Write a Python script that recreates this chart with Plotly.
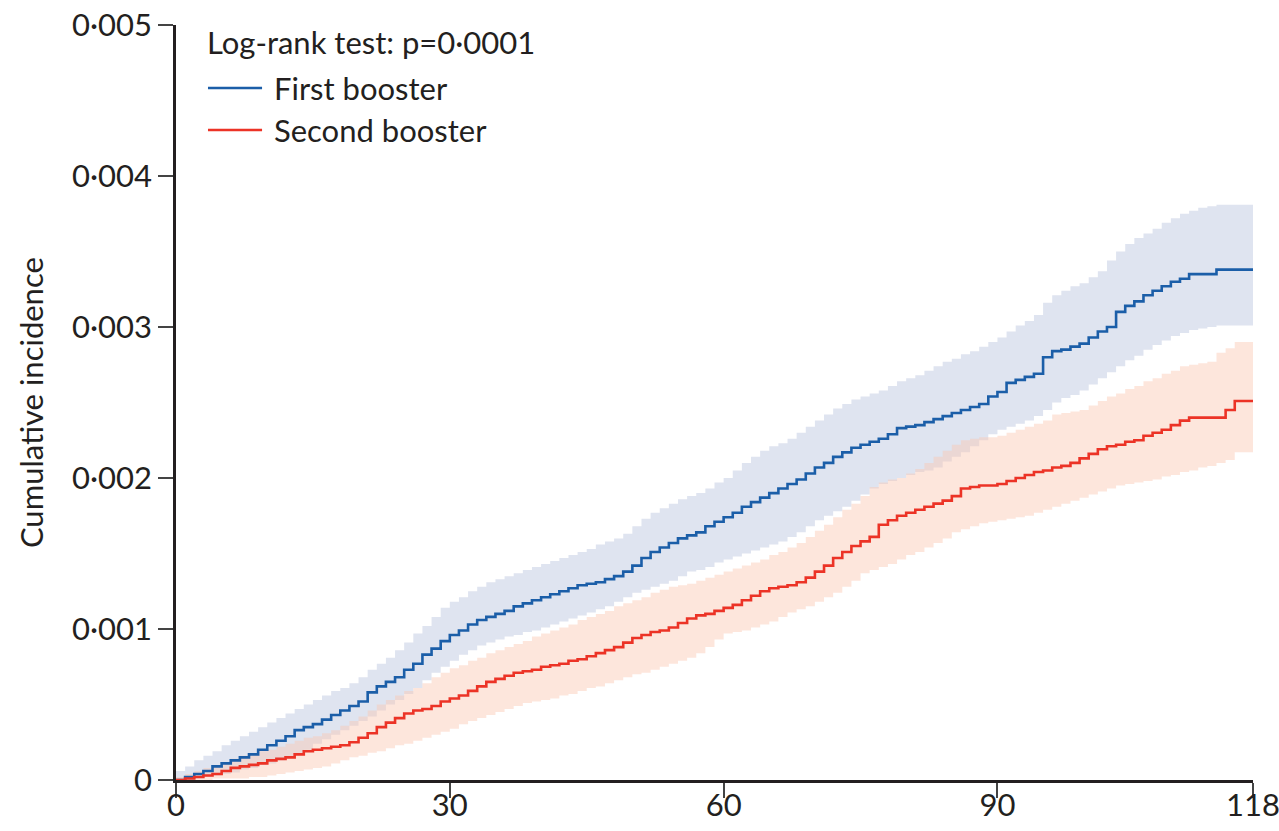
import plotly.graph_objects as go

# Follow-up time in days
days = list(range(0, 119))

# First booster: cumulative incidence and 95% CI
first_est = [
    0.00000, 0.00002, 0.00004, 0.00006, 0.00009, 0.00011, 0.00013, 0.00015, 0.00017, 0.00020,
    0.00023, 0.00026, 0.00029, 0.00033, 0.00035, 0.00037, 0.00040, 0.00043, 0.00046, 0.00049,
    0.00052, 0.00058, 0.00062, 0.00065, 0.00068, 0.00073, 0.00077, 0.00083, 0.00087, 0.00092,
    0.00096, 0.00099, 0.00103, 0.00106, 0.00108, 0.00110, 0.00112, 0.00115, 0.00117, 0.00119,
    0.00121, 0.00123, 0.00125, 0.00127, 0.00129, 0.00130, 0.00131, 0.00133, 0.00135, 0.00138,
    0.00142, 0.00147, 0.00151, 0.00154, 0.00157, 0.00160, 0.00162, 0.00164, 0.00168, 0.00171,
    0.00174, 0.00177, 0.00181, 0.00184, 0.00187, 0.00190, 0.00193, 0.00196, 0.00199, 0.00203,
    0.00207, 0.00210, 0.00214, 0.00217, 0.00220, 0.00222, 0.00224, 0.00226, 0.00229, 0.00233,
    0.00234, 0.00235, 0.00237, 0.00239, 0.00241, 0.00243, 0.00245, 0.00247, 0.00249, 0.00254,
    0.00257, 0.00263, 0.00265, 0.00267, 0.00269, 0.00280, 0.00284, 0.00285, 0.00287, 0.00289,
    0.00293, 0.00297, 0.00300, 0.00310, 0.00314, 0.00317, 0.00321, 0.00324, 0.00327, 0.00330,
    0.00332, 0.00335, 0.00335, 0.00335, 0.00338, 0.00338, 0.00338, 0.00338, 0.00338,
]
first_upper = [
    0.00006, 0.00009, 0.00013, 0.00016, 0.00019, 0.00023, 0.00026, 0.00029, 0.00032, 0.00035,
    0.00038, 0.00041, 0.00044, 0.00047, 0.00050, 0.00053, 0.00056, 0.00059, 0.00061, 0.00064,
    0.00068, 0.00073, 0.00077, 0.00081, 0.00086, 0.00091, 0.00097, 0.00102, 0.00108, 0.00114,
    0.00118, 0.00121, 0.00125, 0.00128, 0.00131, 0.00133, 0.00135, 0.00137, 0.00139, 0.00141,
    0.00143, 0.00145, 0.00147, 0.00149, 0.00151, 0.00153, 0.00156, 0.00158, 0.00160, 0.00163,
    0.00168, 0.00173, 0.00177, 0.00180, 0.00183, 0.00186, 0.00188, 0.00190, 0.00193, 0.00197,
    0.00200, 0.00205, 0.00210, 0.00214, 0.00218, 0.00221, 0.00223, 0.00226, 0.00230, 0.00234,
    0.00238, 0.00242, 0.00246, 0.00249, 0.00252, 0.00254, 0.00256, 0.00258, 0.00261, 0.00264,
    0.00266, 0.00268, 0.00271, 0.00274, 0.00277, 0.00279, 0.00282, 0.00284, 0.00287, 0.00290,
    0.00293, 0.00297, 0.00301, 0.00304, 0.00308, 0.00316, 0.00321, 0.00324, 0.00327, 0.00329,
    0.00333, 0.00337, 0.00344, 0.00350, 0.00355, 0.00359, 0.00362, 0.00365, 0.00369, 0.00372,
    0.00375, 0.00377, 0.00379, 0.00380, 0.00381, 0.00381, 0.00381, 0.00381, 0.00381,
]
first_lower = [
    0.00000, 0.00000, 0.00001, 0.00002, 0.00003, 0.00004, 0.00005, 0.00007, 0.00008, 0.00010,
    0.00011, 0.00013, 0.00015, 0.00017, 0.00020, 0.00024, 0.00027, 0.00030, 0.00033, 0.00036,
    0.00039, 0.00042, 0.00046, 0.00050, 0.00053, 0.00057, 0.00061, 0.00066, 0.00071, 0.00075,
    0.00079, 0.00083, 0.00086, 0.00089, 0.00091, 0.00093, 0.00095, 0.00096, 0.00098, 0.00099,
    0.00101, 0.00103, 0.00105, 0.00107, 0.00109, 0.00111, 0.00113, 0.00115, 0.00118, 0.00121,
    0.00124, 0.00126, 0.00128, 0.00130, 0.00132, 0.00135, 0.00138, 0.00139, 0.00141, 0.00144,
    0.00146, 0.00148, 0.00150, 0.00152, 0.00154, 0.00156, 0.00158, 0.00161, 0.00164, 0.00168,
    0.00172, 0.00175, 0.00178, 0.00181, 0.00185, 0.00189, 0.00193, 0.00196, 0.00198, 0.00200,
    0.00202, 0.00204, 0.00205, 0.00207, 0.00211, 0.00214, 0.00217, 0.00221, 0.00225, 0.00229,
    0.00232, 0.00234, 0.00236, 0.00238, 0.00241, 0.00245, 0.00250, 0.00253, 0.00255, 0.00258,
    0.00262, 0.00266, 0.00270, 0.00274, 0.00278, 0.00281, 0.00285, 0.00288, 0.00291, 0.00294,
    0.00296, 0.00298, 0.00299, 0.00300, 0.00301, 0.00301, 0.00301, 0.00301, 0.00301,
]

# Second booster: cumulative incidence and 95% CI
second_est = [
    0.00000, 0.00001, 0.00002, 0.00003, 0.00004, 0.00006, 0.00008, 0.00009, 0.00010, 0.00011,
    0.00013, 0.00014, 0.00015, 0.00017, 0.00019, 0.00020, 0.00021, 0.00022, 0.00023, 0.00025,
    0.00028, 0.00031, 0.00035, 0.00038, 0.00041, 0.00044, 0.00046, 0.00047, 0.00049, 0.00052,
    0.00054, 0.00056, 0.00059, 0.00062, 0.00065, 0.00067, 0.00069, 0.00071, 0.00072, 0.00073,
    0.00075, 0.00076, 0.00077, 0.00079, 0.00080, 0.00082, 0.00084, 0.00086, 0.00088, 0.00091,
    0.00094, 0.00096, 0.00098, 0.00099, 0.00101, 0.00104, 0.00107, 0.00109, 0.00110, 0.00112,
    0.00114, 0.00116, 0.00119, 0.00122, 0.00125, 0.00127, 0.00128, 0.00129, 0.00131, 0.00134,
    0.00138, 0.00142, 0.00147, 0.00151, 0.00155, 0.00158, 0.00161, 0.00169, 0.00172, 0.00175,
    0.00177, 0.00179, 0.00181, 0.00183, 0.00185, 0.00188, 0.00193, 0.00194, 0.00195, 0.00195,
    0.00196, 0.00198, 0.00200, 0.00202, 0.00204, 0.00205, 0.00207, 0.00208, 0.00210, 0.00213,
    0.00216, 0.00219, 0.00221, 0.00222, 0.00224, 0.00225, 0.00228, 0.00230, 0.00232, 0.00235,
    0.00238, 0.00240, 0.00240, 0.00240, 0.00240, 0.00245, 0.00251, 0.00251, 0.00251,
]
second_upper = [
    0.00002, 0.00004, 0.00006, 0.00008, 0.00010, 0.00012, 0.00014, 0.00016, 0.00017, 0.00019,
    0.00020, 0.00022, 0.00024, 0.00026, 0.00028, 0.00029, 0.00031, 0.00033, 0.00036, 0.00039,
    0.00042, 0.00046, 0.00050, 0.00053, 0.00056, 0.00059, 0.00061, 0.00064, 0.00068, 0.00071,
    0.00074, 0.00076, 0.00079, 0.00081, 0.00084, 0.00086, 0.00088, 0.00090, 0.00092, 0.00095,
    0.00097, 0.00099, 0.00101, 0.00103, 0.00106, 0.00108, 0.00110, 0.00112, 0.00115, 0.00117,
    0.00119, 0.00121, 0.00124, 0.00126, 0.00128, 0.00129, 0.00130, 0.00132, 0.00134, 0.00136,
    0.00138, 0.00140, 0.00142, 0.00144, 0.00146, 0.00149, 0.00151, 0.00154, 0.00157, 0.00161,
    0.00165, 0.00169, 0.00174, 0.00179, 0.00183, 0.00188, 0.00194, 0.00197, 0.00199, 0.00200,
    0.00203, 0.00206, 0.00210, 0.00214, 0.00218, 0.00222, 0.00225, 0.00226, 0.00227, 0.00227,
    0.00228, 0.00230, 0.00232, 0.00234, 0.00236, 0.00238, 0.00242, 0.00243, 0.00244, 0.00245,
    0.00248, 0.00251, 0.00254, 0.00256, 0.00259, 0.00261, 0.00264, 0.00266, 0.00269, 0.00271,
    0.00274, 0.00275, 0.00276, 0.00277, 0.00283, 0.00286, 0.00290, 0.00290, 0.00290,
]
second_lower = [
    0.00000, 0.00000, 0.00000, 0.00000, 0.00001, 0.00001, 0.00001, 0.00001, 0.00002, 0.00002,
    0.00003, 0.00004, 0.00005, 0.00006, 0.00007, 0.00008, 0.00009, 0.00011, 0.00013, 0.00015,
    0.00016, 0.00018, 0.00019, 0.00021, 0.00023, 0.00024, 0.00026, 0.00028, 0.00030, 0.00032,
    0.00034, 0.00037, 0.00039, 0.00041, 0.00043, 0.00045, 0.00047, 0.00049, 0.00051, 0.00052,
    0.00053, 0.00054, 0.00056, 0.00057, 0.00059, 0.00061, 0.00062, 0.00064, 0.00066, 0.00068,
    0.00070, 0.00071, 0.00073, 0.00075, 0.00077, 0.00079, 0.00081, 0.00084, 0.00088, 0.00093,
    0.00097, 0.00098, 0.00099, 0.00101, 0.00103, 0.00105, 0.00108, 0.00111, 0.00113, 0.00115,
    0.00118, 0.00121, 0.00124, 0.00128, 0.00132, 0.00137, 0.00139, 0.00141, 0.00143, 0.00146,
    0.00149, 0.00151, 0.00154, 0.00157, 0.00160, 0.00164, 0.00166, 0.00168, 0.00170, 0.00171,
    0.00172, 0.00173, 0.00174, 0.00175, 0.00177, 0.00179, 0.00181, 0.00183, 0.00185, 0.00187,
    0.00189, 0.00191, 0.00193, 0.00195, 0.00196, 0.00197, 0.00198, 0.00199, 0.00201, 0.00202,
    0.00204, 0.00205, 0.00207, 0.00208, 0.00210, 0.00212, 0.00217, 0.00217, 0.00217,
]

x_ticks = [0, 30, 60, 90, 118]
y_ticks = [0, 0.001, 0.002, 0.003, 0.004, 0.005]
y_tick_labels = ["0", "0·001", "0·002", "0·003", "0·004", "0·005"]

series_names = ["First booster", "Second booster"]
legend_header = "Log-rank test: p=0·0001"

FONT = "Lato, 'Open Sans', sans-serif"
FONT_SIZE = 31
INK = "#231f20"
BLUE = "#1b5ea8"
RED = "#ec3326"
BLUE_BAND = "#dfe4f0"
RED_BAND = "rgba(251,199,177,0.45)"

fig = go.Figure()


def add_band(upper, lower, fill):
    fig.add_trace(go.Scatter(
        x=days, y=upper, mode="lines", line=dict(width=0, shape="hv"),
        hoverinfo="skip", showlegend=False,
    ))
    fig.add_trace(go.Scatter(
        x=days, y=lower, mode="lines", line=dict(width=0, shape="hv"),
        fill="tonexty", fillcolor=fill, hoverinfo="skip", showlegend=False,
    ))


add_band(first_upper, first_lower, BLUE_BAND)
add_band(second_upper, second_lower, RED_BAND)

fig.add_trace(go.Scatter(
    x=days, y=first_est, mode="lines", name=series_names[0],
    line=dict(color=BLUE, width=2.6, shape="hv"), showlegend=False,
))
fig.add_trace(go.Scatter(
    x=days, y=second_est, mode="lines", name=series_names[1],
    line=dict(color=RED, width=2.6, shape="hv"), showlegend=False,
))

# Legend block drawn in paper coordinates (top-left of the plot area)
key_x0, key_x1 = 0.0297, 0.0799
label_x = 0.0891
fig.add_annotation(
    x=0.0265, y=0.9775, xref="paper", yref="paper", xanchor="left", yanchor="middle",
    text=legend_header, showarrow=False,
    font=dict(family=FONT, size=FONT_SIZE, color=INK),
)
for name, colour, ypos in zip(series_names, [BLUE, RED], [0.9166, 0.8610]):
    fig.add_shape(
        type="line", xref="paper", yref="paper",
        x0=key_x0, x1=key_x1, y0=ypos, y1=ypos,
        line=dict(color=colour, width=2.6),
    )
    fig.add_annotation(
        x=label_x, y=ypos, xref="paper", yref="paper", xanchor="left", yanchor="middle",
        text=name, showarrow=False,
        font=dict(family=FONT, size=FONT_SIZE, color=INK),
    )

fig.add_annotation(
    x=-0.135, y=0.5, xref="paper", yref="paper", xanchor="center", yanchor="middle",
    text="Cumulative incidence", textangle=-90, showarrow=False,
    font=dict(family=FONT, size=FONT_SIZE, color=INK),
)

axis_common = dict(
    showline=True, linecolor=INK, linewidth=2.6, mirror=False, automargin=False,
    showgrid=False, zeroline=False, ticks="outside", ticklen=15, tickwidth=2.4,
    tickcolor="#444", ticklabeloverflow="allow",
    tickfont=dict(family=FONT, size=FONT_SIZE, color=INK),
)

fig.update_xaxes(range=[0, 118], tickvals=x_ticks, ticktext=[str(v) for v in x_ticks],
                 ticklabelstandoff=-19, **axis_common)
fig.update_yaxes(range=[0, 0.005], tickvals=y_ticks, ticktext=y_tick_labels,
                 **axis_common)

fig.update_layout(
    width=1279, height=831,
    margin=dict(l=176, r=26, t=25, b=51, pad=0),
    plot_bgcolor="white", paper_bgcolor="white",
    showlegend=False,
)

fig.write_html("out.html")
